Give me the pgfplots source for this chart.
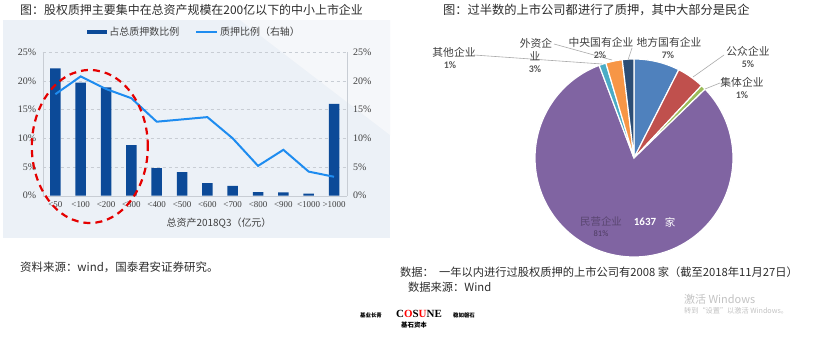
\documentclass[border=0pt]{standalone}
\usepackage{fontspec}
\usepackage{pgfplots}
\pgfplotsset{compat=1.18}
\setmainfont{Liberation Serif}
\newfontfamily\cjk{Noto Sans CJK SC}
\newfontfamily\pct{Carlito}
\definecolor{bgc}{RGB}{236,241,247}
\definecolor{bgl}{RGB}{245,247,250}
\definecolor{barc}{RGB}{12,74,152}
\definecolor{linec}{RGB}{30,140,240}
\definecolor{gridc}{RGB}{200,205,212}
\definecolor{txt}{RGB}{64,64,64}
\definecolor{ttl}{RGB}{45,45,45}
\definecolor{pblue}{HTML}{4F81BD}
\definecolor{pred}{HTML}{C0504D}
\definecolor{pgreen}{HTML}{9BBB59}
\definecolor{ppurple}{HTML}{8064A2}
\definecolor{pcyan}{HTML}{4BACC6}
\definecolor{porange}{HTML}{F79646}
\definecolor{pnavy}{HTML}{2C4D75}
\definecolor{leader}{RGB}{170,170,170}
\definecolor{wm}{RGB}{195,195,195}
\begin{document}
\begin{tikzpicture}
\path[use as bounding box] (0,0) rectangle (839bp,-339bp);
\fill[white] (0,0) rectangle (839bp,-339bp);
% left chart background
\fill[bgc] (3bp,-20bp) rectangle (390bp,-238bp);
\fill[bgl] (240bp,-20bp) -- (390bp,-20bp) -- (390bp,-135bp) -- cycle;
% titles
\node[anchor=west, font=\cjk\fontsize{12}{14}\selectfont, text=ttl, inner sep=0] at (20bp,-10bp) {图：股权质押主要集中在总资产规模在200亿以下的中小上市企业};
\node[anchor=west, font=\cjk\fontsize{12.3}{14}\selectfont, text=ttl, inner sep=0] at (443bp,-10bp) {图：过半数的上市公司都进行了质押，其中大部分是民企};

% ---------------- left chart: bars (left axis) ----------------
\begin{axis}[
  at={(42.7bp,-195.7bp)}, anchor=south west,
  scale only axis, width=304bp, height=143.4bp,
  xmin=-0.5, xmax=11.5, ymin=0, ymax=25,
  axis x line*=bottom, axis y line*=left,
  axis line style={draw=gridc, -},
  major tick length=0pt,
  ytick={0,5,10,15,20,25},
  yticklabel={\pgfmathprintnumber{\tick}\%},
  /pgf/number format/assume math mode=true,
  yticklabel style={font=\fontsize{10}{12}\selectfont, text=txt, xshift=-3bp},
  xtick={0,...,11},
  xticklabels={<50,<100,<200,<300,<400,<500,<600,<700,<800,<900,<1000,>1000},
  xticklabel style={font=\fontsize{9}{11}\selectfont, text=txt, yshift=-2bp},
  xlabel={总资产2018Q3（亿元）},
  xlabel style={font=\cjk\fontsize{10}{12}\selectfont, text=txt, at={(axis description cs:0.58,-0.19)}, anchor=center},
  ymajorgrids, grid style={gridc, dash pattern=on 3bp off 3bp},
  clip=false,
  legend style={at={(axis description cs:0.5,1.1416)}, anchor=center, draw=none, fill=none,
    font=\cjk\fontsize{10}{12}\selectfont, text=txt, legend columns=2,
    /tikz/every even column/.append style={column sep=14bp}},
]
\addplot[ybar, bar width=10.5bp, fill=barc, draw=none,
  legend image code/.code={\fill[barc] (0bp,-2bp) rectangle (20bp,2bp);}]
  coordinates {(0,22.2) (1,19.7) (2,18.9) (3,8.8) (4,4.8) (5,4.1) (6,2.2) (7,1.7) (8,0.64) (9,0.6) (10,0.35) (11,16.0)};
\addlegendentry{占总质押数比例}
\addlegendimage{linec, line width=2bp, legend image code/.code={\draw[linec, line width=2bp] (0bp,0bp) -- (21bp,0bp);}}
\addlegendentry{质押比例（右轴）}
\end{axis}

% ---------------- left chart: line (right axis) ----------------
\begin{axis}[
  at={(42.7bp,-195.7bp)}, anchor=south west,
  scale only axis, width=304bp, height=143.4bp,
  xmin=-0.5, xmax=11.5, ymin=0, ymax=25,
  hide x axis, axis y line*=right,
  axis line style={draw=gridc, -},
  major tick length=0pt,
  ytick={0,5,10,15,20,25},
  yticklabel={\pgfmathprintnumber{\tick}\%},
  /pgf/number format/assume math mode=true,
  yticklabel style={font=\fontsize{10}{12}\selectfont, text=txt, xshift=3bp},
  clip=false,
]
\addplot[linec, line width=2bp, mark=none]
  coordinates {(0,17.7) (1,20.8) (2,18.6) (3,17.0) (4,12.9) (5,13.3) (6,13.7) (7,10.0) (8,5.2) (9,8.0) (10,4.2) (11,3.3)};
\draw[red!90!black, line width=2.2bp, dash pattern=on 7bp off 5bp] (axis cs:1.36,8.58) ellipse [x radius=58bp, y radius=76.5bp];
\end{axis}

% ---------------- right chart: pie ----------------
% counts: local SOE 150, public 90, collective 16, private 1637, other 23, foreign 54, central SOE 38 (total 2008)
\begin{axis}[
  at={(634bp,-158bp)}, anchor=center,
  scale only axis, width=198bp, height=198bp,
  xmin=-1, xmax=1, ymin=-1, ymax=1,
  hide axis, clip=false,
]
\addplot[fill=pblue, draw=white, line width=1.2bp, domain=63.11:90, samples=30] ({cos(x)},{sin(x)}) -- (axis cs:0,0) -- cycle;
\addplot[fill=pred, draw=white, line width=1.2bp, domain=46.97:63.11, samples=20] ({cos(x)},{sin(x)}) -- (axis cs:0,0) -- cycle;
\addplot[fill=pgreen, draw=white, line width=1.2bp, domain=44.10:46.97, samples=5] ({cos(x)},{sin(x)}) -- (axis cs:0,0) -- cycle;
\addplot[fill=ppurple, draw=white, line width=1.2bp, domain=-249.38:44.10, samples=150] ({cos(x)},{sin(x)}) -- (axis cs:0,0) -- cycle;
\addplot[fill=pcyan, draw=white, line width=1.2bp, domain=106.50:110.62, samples=5] ({cos(x)},{sin(x)}) -- (axis cs:0,0) -- cycle;
\addplot[fill=porange, draw=white, line width=1.2bp, domain=96.82:106.50, samples=10] ({cos(x)},{sin(x)}) -- (axis cs:0,0) -- cycle;
\addplot[fill=pnavy, draw=white, line width=1.2bp, domain=90:96.82, samples=8] ({cos(x)},{sin(x)}) -- (axis cs:0,0) -- cycle;
\end{axis}

% leader lines
\draw[leader, line width=0.6bp] (474bp,-55bp) -- (602bp,-64bp);
\draw[leader, line width=0.6bp] (554bp,-44bp) -- (612bp,-60bp);
\draw[leader, line width=0.6bp] (632bp,-48bp) -- (628bp,-60bp);
\draw[leader, line width=0.6bp] (724bp,-55bp) -- (693bp,-77bp);
\draw[leader, line width=0.6bp] (720bp,-83bp) -- (705bp,-89bp);

% pie labels
\begin{scope}[every node/.style={inner sep=0, text=txt}]
\node[font=\cjk\fontsize{10.8}{12}\selectfont] at (454bp,-52bp) {其他企业};
\node[font=\pct\bfseries\fontsize{10}{12}\selectfont, text=black!65] at (450bp,-65bp) {1\%};
\node[font=\cjk\fontsize{10.8}{12}\selectfont] at (536bp,-43bp) {外资企};
\node[font=\cjk\fontsize{10.8}{12}\selectfont] at (535bp,-56bp) {业};
\node[font=\pct\bfseries\fontsize{10}{12}\selectfont, text=black!65] at (535bp,-69bp) {3\%};
\node[font=\cjk\fontsize{10.8}{12}\selectfont] at (601bp,-42bp) {中央国有企业};
\node[font=\pct\bfseries\fontsize{10}{12}\selectfont, text=black!65] at (600bp,-55bp) {2\%};
\node[font=\cjk\fontsize{10.8}{12}\selectfont] at (669bp,-42bp) {地方国有企业};
\node[font=\pct\bfseries\fontsize{10}{12}\selectfont, text=black!65] at (668bp,-55bp) {7\%};
\node[font=\cjk\fontsize{10.8}{12}\selectfont] at (748bp,-51bp) {公众企业};
\node[font=\pct\bfseries\fontsize{10}{12}\selectfont, text=black!65] at (748bp,-64bp) {5\%};
\node[font=\cjk\fontsize{10.8}{12}\selectfont] at (742bp,-82bp) {集体企业};
\node[font=\pct\bfseries\fontsize{10}{12}\selectfont, text=black!65] at (742bp,-95bp) {1\%};
\node[font=\cjk\fontsize{10.5}{12}\selectfont, text=ppurple!70!black] at (601bp,-222bp) {民营企业};
\node[font=\pct\bfseries\fontsize{11}{12}\selectfont, text=white] at (645bp,-222bp) {1637};
\node[font=\cjk\fontsize{10.5}{12}\selectfont, text=white] at (670bp,-222bp) {家};
\node[font=\pct\fontsize{8.5}{10}\selectfont, text=ppurple!60!black] at (601bp,-234bp) {81\%};
\end{scope}

% captions
\node[anchor=west, inner sep=0, font=\cjk\fontsize{11.5}{13}\selectfont, text=ttl] at (20bp,-267bp) {资料来源：wind，国泰君安证券研究。};
\node[anchor=west, inner sep=0, font=\cjk\fontsize{11.3}{13}\selectfont, text=ttl] at (400bp,-272bp) {数据：\ \ 一年以内进行过股权质押的上市公司有2008 家（截至2018年11月27日）};
\node[anchor=west, inner sep=0, font=\cjk\fontsize{11.3}{13}\selectfont, text=ttl] at (408bp,-287bp) {数据来源：Wind};

% logo
\node[inner sep=0, font=\cjk\bfseries\fontsize{5.5}{6}\selectfont] at (371bp,-315bp) {基业长青};
\node[inner sep=0, font=\bfseries\fontsize{11}{12}\selectfont] at (419bp,-314bp) {C\textcolor{red}{O}S\textcolor{red}{U}NE};
\node[inner sep=0, font=\cjk\bfseries\fontsize{5.5}{6}\selectfont] at (464bp,-315bp) {稳如磐石};
\node[inner sep=0, font=\cjk\bfseries\fontsize{6.5}{7}\selectfont] at (414bp,-325bp) {基石资本};

% watermark
\node[anchor=west, inner sep=0, font=\cjk\fontsize{11}{12}\selectfont, text=wm] at (684bp,-299bp) {激活 Windows};
\node[anchor=west, inner sep=0, font=\cjk\fontsize{7.2}{8}\selectfont, text=wm] at (684bp,-311bp) {转到“设置”以激活 Windows。};
\end{tikzpicture}
\end{document}
